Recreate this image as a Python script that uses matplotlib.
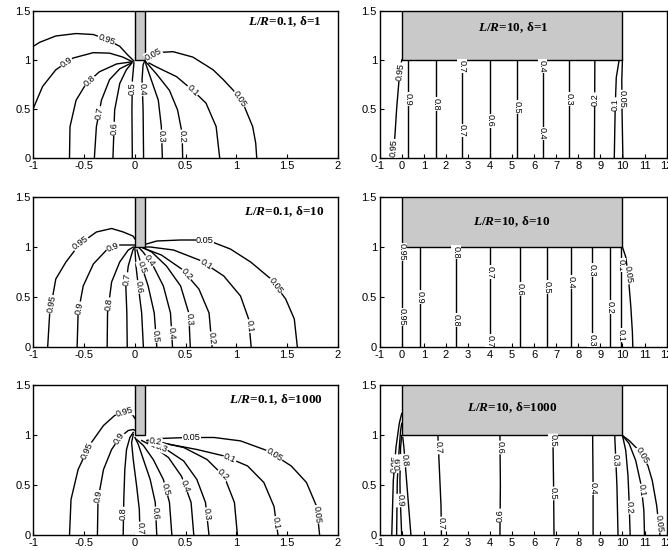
import numpy as np
import matplotlib
matplotlib.use('Agg')
import matplotlib.pyplot as plt
from matplotlib.patches import Rectangle

plt.rcParams['font.family'] = ['Liberation Sans', 'DejaVu Sans']
plt.rcParams['axes.unicode_minus'] = False
plt.rcParams['mathtext.fontset'] = 'custom'
plt.rcParams['mathtext.it'] = 'Liberation Serif:italic:bold'
plt.rcParams['mathtext.rm'] = 'Liberation Serif:bold'

# tick positions / labels
short_xticks = [-1, -0.5, 0, 0.5, 1, 1.5, 2]
short_xlabels = ['-1', '-0.5', '0', '0.5', '1', '1.5', '2']
long_xticks = list(range(-1, 13))
long_xlabels = [str(v) for v in long_xticks]
yticks = [0, 0.5, 1, 1.5]
ylabels = ['0', '0.5', '1', '1.5']

# iso-concentration lines: (level label, traced (x, y) points, label spots)
# L/R = 0.1, delta = 1
short_d1 = [
    ("0.95", [(-1.0, 1.14), (-0.94, 1.18), (-0.78, 1.245), (-0.58, 1.27), (-0.41, 1.26), (-0.28, 1.21),
              (-0.15, 1.14), (-0.07, 1.05), (-0.01, 0.99)], [(-0.28, 1.21)]),
    ("0.9", [(-1.0, 0.51), (-0.91, 0.73), (-0.78, 0.9), (-0.61, 1.02), (-0.41, 1.075), (-0.25, 1.07),
             (-0.12, 1.03), (-0.02, 0.98)], [(-0.66, 0.95)]),
    ("0.8", [(-0.645, 0.0), (-0.64, 0.32), (-0.58, 0.59), (-0.48, 0.76), (-0.35, 0.88), (-0.18, 0.96),
             (-0.04, 0.98)], [(-0.45, 0.79)]),
    ("0.7", [(-0.40, 0.0), (-0.38, 0.32), (-0.33, 0.59), (-0.25, 0.8), (-0.15, 0.91), (-0.035, 0.97)],
     [(-0.355, 0.46)]),
    ("0.6", [(-0.217, 0.0), (-0.2, 0.49), (-0.15, 0.76), (-0.085, 0.9), (-0.03, 0.97)], [(-0.21, 0.3)]),
    ("0.5", [(-0.026, 0.0), (-0.03, 0.5), (-0.025, 0.8), (-0.01, 0.97)], [(-0.03, 0.71)]),
    ("0.4", [(0.085, 0.0), (0.08, 0.5), (0.07, 0.8), (0.08, 0.95), (0.1, 1.0)], [(0.08, 0.70)]),
    ("0.3", [(0.27, 0.0), (0.26, 0.32), (0.23, 0.59), (0.16, 0.8), (0.11, 0.95), (0.1, 1.0)], [(0.265, 0.22)]),
    ("0.2", [(0.47, 0.0), (0.465, 0.25), (0.42, 0.49), (0.34, 0.69), (0.21, 0.86), (0.1, 0.99)],
     [(0.468, 0.22)]),
    ("0.1", [(0.835, 0.0), (0.8, 0.32), (0.7, 0.56), (0.57, 0.69), (0.41, 0.83), (0.21, 0.93), (0.1, 0.99)],
     [(0.57, 0.69)]),
    ("0.05", [(1.2, 0.0), (1.19, 0.15), (1.16, 0.32), (1.08, 0.52), (0.97, 0.69), (0.87, 0.8), (0.77, 0.9),
              (0.57, 1.03), (0.375, 1.085), (0.21, 1.075), (0.13, 1.03), (0.1, 1.0)],
     [(1.03, 0.6), (0.18, 1.06)]),
]

# L/R = 0.1, delta = 10
short_d10 = [
    ("0.95", [(-0.86, 0.0), (-0.84, 0.34), (-0.78, 0.68), (-0.68, 0.85), (-0.545, 1.03), (-0.38, 1.15),
              (-0.23, 1.185), (-0.115, 1.15), (-0.02, 1.11), (0.0, 1.08)], [(-0.84, 0.43), (-0.53, 1.03)]),
    ("0.9", [(-0.57, 0.0), (-0.56, 0.34), (-0.51, 0.61), (-0.41, 0.83), (-0.28, 0.97), (-0.15, 1.02),
             (0.0, 1.02)], [(-0.56, 0.39), (-0.22, 1.0)]),
    ("0.8", [(-0.274, 0.0), (-0.27, 0.34), (-0.23, 0.65), (-0.15, 0.85), (-0.066, 0.97), (-0.016, 1.0)],
     [(-0.27, 0.43)]),
    ("0.7", [(-0.076, 0.0), (-0.08, 0.34), (-0.09, 0.61), (-0.066, 0.81), (-0.02, 0.97), (0.0, 1.0)],
     [(-0.09, 0.68)]),
    ("0.6", [(0.083, 0.0), (0.066, 0.34), (0.033, 0.61), (0.01, 0.81), (0.0, 0.98)], [(0.03, 0.6)]),
    ("0.5", [(0.215, 0.0), (0.19, 0.34), (0.13, 0.61), (0.066, 0.81), (0.02, 0.97)],
     [(0.21, 0.11), (0.07, 0.8)]),
    ("0.4", [(0.37, 0.0), (0.35, 0.34), (0.28, 0.61), (0.18, 0.81), (0.08, 0.95), (0.033, 1.0)],
     [(0.36, 0.14), (0.14, 0.86)]),
    ("0.3", [(0.545, 0.0), (0.53, 0.34), (0.45, 0.61), (0.31, 0.81), (0.165, 0.95), (0.066, 1.0)],
     [(0.51, 0.28)]),
    ("0.2", [(0.76, 0.0), (0.73, 0.34), (0.63, 0.58), (0.46, 0.78), (0.26, 0.92), (0.08, 0.99)],
     [(0.79, 0.09), (0.5, 0.72)]),
    ("0.1", [(1.145, 0.0), (1.12, 0.28), (1.04, 0.51), (0.875, 0.71), (0.645, 0.865), (0.38, 0.97),
             (0.15, 1.0), (0.05, 1.0)], [(1.14, 0.21), (0.7, 0.83)]),
    ("0.05", [(1.6, 0.0), (1.57, 0.28), (1.485, 0.48), (1.34, 0.68), (1.14, 0.85), (0.94, 0.98),
              (0.71, 1.07), (0.445, 1.07), (0.215, 1.06), (0.08, 1.02), (0.033, 1.0)],
     [(0.69, 1.06), (1.37, 0.6)]),
]

# L/R = 0.1, delta = 1000
short_d1000 = [
    ("0.95", [(-0.645, 0.0), (-0.63, 0.36), (-0.56, 0.66), (-0.45, 0.9), (-0.31, 1.1), (-0.2, 1.2),
              (-0.1, 1.23), (-0.02, 1.2), (0.0, 1.17)], [(-0.5, 0.86), (-0.1, 1.23)]),
    ("0.9", [(-0.37, 0.0), (-0.364, 0.36), (-0.31, 0.66), (-0.23, 0.86), (-0.15, 0.98), (-0.066, 1.05),
             (-0.016, 1.06), (0.0, 1.05)], [(-0.37, 0.39), (-0.2, 1.0)]),
    ("0.8", [(-0.116, 0.0), (-0.11, 0.36), (-0.1, 0.66), (-0.083, 0.86), (-0.05, 0.98), (-0.017, 1.03)],
     [(-0.11, 0.22)]),
    ("0.7", [(0.05, 0.0), (0.043, 0.26), (0.017, 0.49), (-0.017, 0.76), (-0.033, 0.93), (-0.017, 1.01)],
     [(0.05, 0.07)]),
    ("0.6", [(0.215, 0.0), (0.2, 0.33), (0.15, 0.56), (0.083, 0.76), (0.033, 0.91), (0.0, 0.98)],
     [(0.2, 0.22)]),
    ("0.5", [(0.364, 0.0), (0.34, 0.33), (0.28, 0.56), (0.18, 0.76), (0.083, 0.9), (0.017, 0.96)],
     [(0.29, 0.46)]),
    ("0.4", [(0.58, 0.0), (0.553, 0.33), (0.46, 0.59), (0.33, 0.78), (0.18, 0.89), (0.066, 0.95)],
     [(0.5, 0.5)]),
    ("0.3", [(0.73, 0.0), (0.695, 0.33), (0.61, 0.56), (0.48, 0.745), (0.31, 0.86), (0.13, 0.93)],
     [(0.68, 0.21), (0.24, 0.82)]),
    ("0.2", [(1.01, 0.0), (0.98, 0.33), (0.88, 0.59), (0.71, 0.76), (0.48, 0.88), (0.25, 0.93), (0.12, 0.95)],
     [(0.86, 0.6), (0.2, 0.93)]),
    ("0.1", [(1.41, 0.0), (1.37, 0.29), (1.27, 0.53), (1.11, 0.695), (0.88, 0.795), (0.61, 0.86),
             (0.35, 0.91), (0.165, 0.95)], [(1.35, 0.12), (0.94, 0.78)]),
    ("0.05", [(1.82, 0.0), (1.79, 0.29), (1.69, 0.53), (1.54, 0.695), (1.31, 0.846), (1.04, 0.946),
              (0.78, 0.98), (0.51, 0.98), (0.25, 0.97), (0.165, 0.96), (0.12, 0.95)],
     [(1.79, 0.21), (1.37, 0.8), (0.56, 0.98)]),
]

# L/R = 10, delta = 1
long_d1 = [
    ("0.95", [(-0.38, 0.0), (-0.3, 0.25), (-0.23, 0.5), (-0.12, 0.8), (0.0, 1.0)], [(-0.35, 0.1), (-0.06, 0.88)]),
    ("0.9", [(0.3, 0.0), (0.3, 1.0)], [(0.3, 0.6)]),
    ("0.8", [(1.54, 0.0), (1.54, 1.0)], [(1.54, 0.55)]),
    ("0.7", [(2.75, 0.0), (2.75, 1.0)], [(2.75, 0.28), (2.75, 0.94)]),
    ("0.6", [(4.0, 0.0), (4.0, 1.0)], [(4.0, 0.38)]),
    ("0.5", [(5.23, 0.0), (5.23, 1.0)], [(5.23, 0.52)]),
    ("0.4", [(6.38, 0.0), (6.38, 1.0)], [(6.38, 0.25), (6.38, 0.94)]),
    ("0.3", [(7.59, 0.0), (7.59, 1.0)], [(7.59, 0.6)]),
    ("0.2", [(8.73, 0.0), (8.75, 1.0)], [(8.74, 0.6)]),
    ("0.1", [(9.63, 0.0), (9.67, 0.5), (9.72, 0.82), (9.85, 1.0)], [(9.66, 0.55)]),
    ("0.05", [(10.02, 0.0), (9.98, 0.5), (9.97, 0.8), (10.0, 1.0)], [(9.98, 0.6)]),
]

# L/R = 10, delta = 10
long_d10 = [
    ("0.95", [(0.03, 0.0), (0.03, 1.0)], [(0.03, 0.3), (0.03, 0.95)]),
    ("0.9", [(0.85, 0.0), (0.85, 1.0)], [(0.85, 0.5)]),
    ("0.8", [(2.48, 0.0), (2.48, 1.0)], [(2.48, 0.27), (2.48, 0.95)]),
    ("0.7", [(3.99, 0.0), (3.99, 1.0)], [(3.99, 0.75), (3.99, 0.06)]),
    ("0.6", [(5.35, 0.0), (5.35, 1.0)], [(5.35, 0.58)]),
    ("0.5", [(6.6, 0.0), (6.6, 1.0)], [(6.6, 0.6)]),
    ("0.4", [(7.69, 0.0), (7.69, 1.0)], [(7.69, 0.65)]),
    ("0.3", [(8.64, 0.0), (8.64, 1.0)], [(8.64, 0.77), (8.64, 0.07)]),
    ("0.2", [(9.43, 0.0), (9.43, 1.0)], [(9.43, 0.4)]),
    ("0.1", [(9.95, 0.0), (9.95, 1.0)], [(9.95, 0.12), (9.95, 0.82)]),
    ("0.05", [(10.0, 1.0), (10.15, 0.9), (10.27, 0.7), (10.38, 0.4), (10.45, 0.15), (10.47, 0.0)],
     [(10.25, 0.72)]),
]

# L/R = 10, delta = 1000
long_d1000 = [
    ("0.95", [(-0.45, 0.0), (-0.38, 0.55), (-0.26, 0.88), (-0.11, 1.12), (0.0, 1.22)], [(-0.36, 0.72)]),
    ("0.9", [(-0.23, 0.0), (-0.2, 0.55), (-0.11, 0.88), (-0.05, 1.05), (0.0, 1.12)], [(-0.16, 0.72)]),
    ("0.9", [(0.0, 0.0), (-0.07, 0.4), (-0.08, 0.55), (-0.05, 0.88), (0.0, 1.0)], [(-0.07, 0.35)]),
    ("0.8", [(0.42, 0.0), (0.34, 0.22), (0.22, 0.55), (0.1, 0.88), (0.05, 0.98)], [(0.16, 0.75)]),
    ("0.7", [(1.8, 0.0), (1.78, 0.3), (1.72, 0.6), (1.66, 0.9), (1.64, 1.0)], [(1.8, 0.12), (1.66, 0.88)]),
    ("0.6", [(4.45, 0.0), (4.47, 0.5), (4.45, 1.0)], [(4.46, 0.2), (4.45, 0.88)]),
    ("0.5", [(6.9, 0.0), (6.88, 0.5), (6.85, 1.0)], [(6.88, 0.42), (6.85, 0.95)]),
    ("0.4", [(8.67, 0.0), (8.67, 0.5), (8.65, 1.0)], [(8.67, 0.47)]),
    ("0.3", [(9.8, 0.0), (9.75, 0.5), (9.65, 1.0)], [(9.72, 0.75)]),
    ("0.2", [(10.0, 1.0), (10.15, 0.85), (10.25, 0.6), (10.3, 0.35), (10.35, 0.0)], [(10.3, 0.28)]),
    ("0.1", [(10.0, 1.0), (10.3, 0.92), (10.6, 0.75), (10.85, 0.5), (10.97, 0.25), (11.0, 0.0)],
     [(10.88, 0.45)]),
    ("0.05", [(10.0, 1.0), (10.3, 0.95), (10.75, 0.85), (11.15, 0.7), (11.35, 0.55), (11.55, 0.3),
              (11.65, 0.1), (11.7, 0.0)], [(11.62, 0.12), (10.9, 0.8)]),
]

GRAY = '#c9c9c9'


def label_line(ax, pts, text, near):
    # put a rotated level label on the line, nearest to the requested spot
    xy = ax.transData.transform(pts)
    p = ax.transData.transform(near)
    best = None
    for i in range(len(xy) - 1):
        a, b = xy[i], xy[i + 1]
        d = b - a
        L2 = d @ d
        t = 0.0 if L2 == 0 else np.clip((p - a) @ d / L2, 0, 1)
        q = a + t * d
        dist = np.hypot(*(p - q))
        if best is None or dist < best[0]:
            best = (dist, q, d)
    _, q, d = best
    ang = np.degrees(np.arctan2(d[1], d[0]))
    if ang >= 90:
        ang -= 180
    elif ang < -90:
        ang += 180
    x, y = ax.transData.inverted().transform(q)
    ax.text(x, y, text, rotation=ang, rotation_mode='anchor', ha='center', va='center',
            fontsize=6.6, bbox=dict(fc='white', ec='none', pad=0.3), zorder=4, clip_on=True)


def draw_panel(ax, contours, xlim, xticks, xlabels, block_w, title, title_xy, title_axes):
    ax.set_xlim(*xlim)
    ax.set_ylim(0, 1.5)
    ax.set_xticks(xticks)
    ax.set_xticklabels(xlabels)
    ax.set_yticks(yticks)
    ax.set_yticklabels(ylabels)
    ax.tick_params(direction='in', length=3, width=0.8, labelsize=8, pad=2)
    for sp in ax.spines.values():
        sp.set_linewidth(1.0)

    ax.add_patch(Rectangle((0, 1.0), block_w, 0.5, fc=GRAY, ec='black', lw=1.0, zorder=3))

    for level, pts, spots in contours:
        xs = [p[0] for p in pts]
        ys = [p[1] for p in pts]
        ax.plot(xs, ys, color='black', lw=1.0, zorder=2)
        for s in spots:
            label_line(ax, pts, level, s)

    if title_axes:
        ax.text(title_xy[0], title_xy[1], title, transform=ax.transAxes, ha='right', va='center',
                fontsize=9.5, family='Liberation Serif', fontweight='bold', zorder=5)
    else:
        ax.text(title_xy[0], title_xy[1], title, ha='center', va='center',
                fontsize=9.5, family='Liberation Serif', fontweight='bold', zorder=5)


fig = plt.figure(figsize=(6.68, 5.5), dpi=100)

left_x, left_w = 0.0501, 0.4558
right_x, right_w = 0.5683, 0.4296
rows = [(0.7127, 0.2673), (0.3691, 0.2727), (0.0264, 0.2727)]

short_sets = [
    (short_d1, r'$L/R$=0.1, δ=1', (0.947, 0.925)),
    (short_d10, r'$L/R$=0.1, δ=10', (0.957, 0.9)),
    (short_d1000, r'$L/R$=0.1, δ=1000', (0.95, 0.907)),
]
long_sets = [
    (long_d1, r'$L/R$=10, δ=1', (5.05, 1.33)),
    (long_d10, r'$L/R$=10, δ=10', (5.0, 1.25)),
    (long_d1000, r'$L/R$=10, δ=1000', (5.0, 1.28)),
]

for (y0, h), (sc, st, sxy), (lc, lt, lxy) in zip(rows, short_sets, long_sets):
    axl = fig.add_axes([left_x, y0, left_w, h])
    draw_panel(axl, sc, (-1, 2), short_xticks, short_xlabels, 0.1, st, sxy, True)
    axr = fig.add_axes([right_x, y0, right_w, h])
    draw_panel(axr, lc, (-1, 12), long_xticks, long_xlabels, 10, lt, lxy, False)

fig.savefig('out.png', dpi=100)
